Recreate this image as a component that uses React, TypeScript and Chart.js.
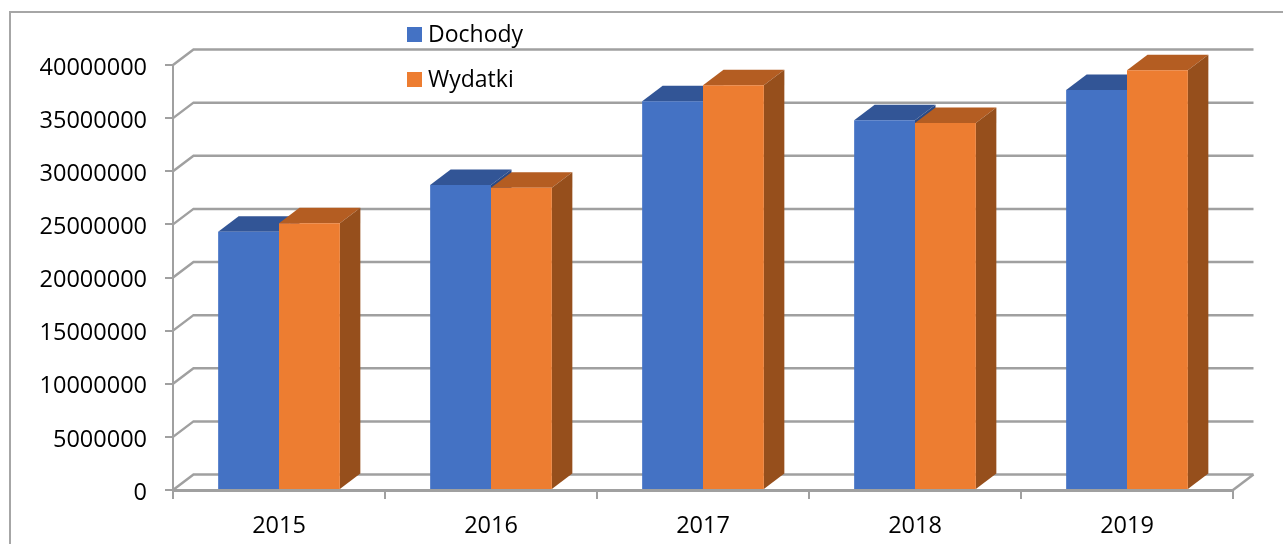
import React, { useEffect, useRef } from "react";
import { Chart, registerables } from "chart.js";

Chart.register(...registerables);

const years = ["2015", "2016", "2017", "2018", "2019"];
const dochody = [24310000, 28710000, 36580000, 34790000, 37650000];
const wydatki = [25100000, 28450000, 38090000, 34540000, 39500000];
const seriesNames = ["Dochody", "Wydatki"];
const frontColors = ["#4472C4", "#ED7D31"];
const topColors = ["#325596", "#B45D22"];
const sideColors = ["#2B4A85", "#964F1C"];
const GRID = "#A0A0A0";
const FONT = '"Open Sans", sans-serif';
const DX = 20.5;
const DY = 15.5;

const threeD = {
  id: "threeD",
  beforeDraw(chart: any) {
    const { ctx, scales } = chart;
    const y = scales.y;
    const area = chart.chartArea;
    ctx.save();
    // outer frame
    ctx.strokeStyle = "#A6A6A6";
    ctx.lineWidth = 2;
    ctx.beginPath();
    ctx.moveTo(10, 546);
    ctx.lineTo(10, 12);
    ctx.lineTo(1285, 12);
    ctx.stroke();
    // walls: gridlines
    ctx.strokeStyle = GRID;
    ctx.lineWidth = 2.5;
    y.ticks.forEach((t: any) => {
      const py = y.getPixelForValue(t.value);
      ctx.beginPath();
      ctx.moveTo(area.left, py);
      ctx.lineTo(area.left + DX, py - DY);
      ctx.lineTo(area.right + DX, py - DY);
      ctx.stroke();
    });
    // floor edge
    ctx.beginPath();
    ctx.moveTo(area.right, area.bottom);
    ctx.lineTo(area.right + DX, area.bottom - DY);
    ctx.stroke();
    ctx.restore();
  },
  beforeDatasetsDraw(chart: any) {
    const { ctx } = chart;
    ctx.save();
    chart.data.datasets.forEach((_d: any, i: number) => {
      chart.getDatasetMeta(i).data.forEach((bar: any) => {
        const { x, y, base, width } = bar.getProps(["x", "y", "base", "width"], true);
        const l = x - width / 2;
        const r = x + width / 2;
        ctx.fillStyle = topColors[i];
        ctx.beginPath();
        ctx.moveTo(l, y);
        ctx.lineTo(l + DX, y - DY);
        ctx.lineTo(r + DX, y - DY);
        ctx.lineTo(r, y);
        ctx.closePath();
        ctx.fill();
        ctx.fillStyle = sideColors[i];
        ctx.beginPath();
        ctx.moveTo(r, y);
        ctx.lineTo(r + DX, y - DY);
        ctx.lineTo(r + DX, base - DY);
        ctx.lineTo(r, base);
        ctx.closePath();
        ctx.fill();
      });
    });
    ctx.restore();
  },
  afterDraw(chart: any) {
    const { ctx } = chart;
    ctx.save();
    ctx.textAlign = "left";
    ctx.textBaseline = "middle";
    ctx.font = `23px ${FONT}`;
    [34.5, 79.5].forEach((cy, i) => {
      ctx.fillStyle = frontColors[i];
      ctx.fillRect(407, cy - 7.5, 15, 15);
      ctx.fillStyle = "#000000";
      ctx.fillText(seriesNames[i], 428, cy + 1);
    });
    ctx.restore();
  },
};

export default function App() {
  const ref = useRef<HTMLCanvasElement>(null);
  useEffect(() => {
    const chart = new Chart(ref.current as HTMLCanvasElement, {
      type: "bar",
      data: {
        labels: years,
        datasets: [
          { label: seriesNames[0], data: dochody, backgroundColor: frontColors[0], barPercentage: 1, categoryPercentage: 0.574 },
          { label: seriesNames[1], data: wydatki, backgroundColor: frontColors[1], barPercentage: 1, categoryPercentage: 0.574 },
        ],
      },
      plugins: [threeD],
      options: {
        responsive: false,
        animation: false,
        layout: { padding: { top: 65, right: 50, left: 0, bottom: 0 } },
        plugins: { legend: { display: false }, tooltip: { enabled: false }, title: { display: false } },
        scales: {
          x: {
            offset: true,
            grid: { offset: true, drawOnChartArea: false, color: GRID, lineWidth: 2, tickLength: 9 },
            border: { color: GRID, width: 3 },
            ticks: { color: "#000000", font: { family: FONT, size: 23.5 }, padding: 13, maxRotation: 0 },
            afterFit(s: any) { s.height = 54; },
          },
          y: {
            min: 0,
            max: 40000000,
            grid: { drawOnChartArea: false, color: GRID, lineWidth: 2, tickLength: 8 },
            border: { color: GRID, width: 2 },
            ticks: {
              stepSize: 5000000,
              color: "#000000",
              font: { family: FONT, size: 23.5 },
              padding: 18,
              callback: (v: any) => String(v),
            },
            afterFit(s: any) {
              s.width = 173;
              if (!s.__shifted) {
                s.__shifted = true;
                const draw = s.drawLabels.bind(s);
                s.drawLabels = (a: any) => {
                  s.ctx.save();
                  s.ctx.translate(0, 3);
                  draw(a);
                  s.ctx.restore();
                };
              }
            },
          },
        },
      },
    } as any);
    return () => chart.destroy();
  }, []);
  return (
    <canvas
      ref={ref}
      width={1283}
      height={544}
      style={{ position: "absolute", left: 0, top: 0, display: "block", width: 1283, height: 544 }}
    />
  );
}
